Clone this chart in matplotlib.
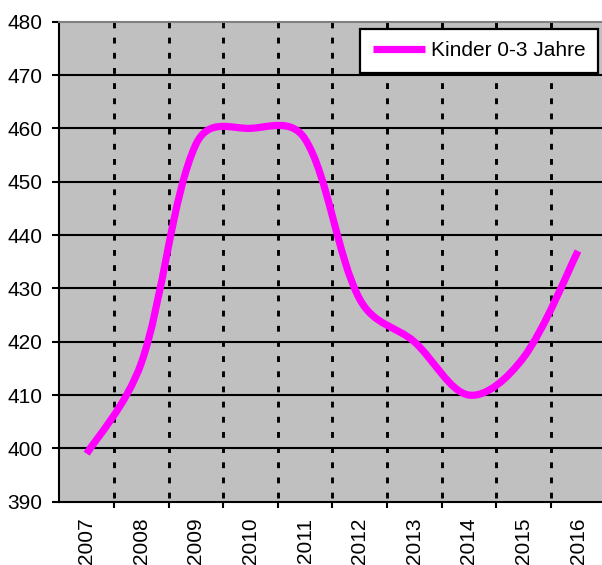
import math
import matplotlib.pyplot as plt
from matplotlib.path import Path
from matplotlib.patches import PathPatch
from matplotlib.lines import Line2D

# Kinder 0-3 Jahre per year
years = ['2007', '2008', '2009', '2010', '2011', '2012', '2013', '2014', '2015', '2016']
kinder = [399, 416, 457, 460, 458, 428, 420, 410, 417, 437]
y_ticks = [390, 400, 410, 420, 430, 440, 450, 460, 470, 480]
series_name = 'Kinder 0-3 Jahre'

plt.rcParams['font.family'] = 'Liberation Sans'
plt.rcParams['font.size'] = 15

fig = plt.figure(figsize=(6.02, 5.65), dpi=100)
ax_w, ax_h = 545.9, 480.0
ax = fig.add_axes([59.4 / 602, 63.3 / 565, ax_w / 602, ax_h / 565])
ax.set_facecolor('#c0c0c0')

n = len(years)
xs = list(range(n))
ax.set_xlim(-0.5, n - 0.5)
ax.set_ylim(y_ticks[0], y_ticks[-1])

# solid horizontal gridlines, dotted vertical lines between categories
ax.hlines(y_ticks[1:-1], -0.5, n - 0.5, colors='black', lw=1.5, zorder=1)
bounds = [i + 0.5 for i in range(n - 1)]
ax.vlines(bounds, y_ticks[-1], y_ticks[0], colors='black', lw=2.1,
          linestyles=(0, (2.0, 3.2)), zorder=1)

# smoothed line: bezier segments; handle length is half the plain 1/6 rule,
# half scaled by the on-screen length of the neighbouring segments
sx = ax_w / n
sy = ax_h / (y_ticks[-1] - y_ticks[0])


def dist(a, b):
    return math.hypot((b[0] - a[0]) * sx, (b[1] - a[1]) * sy)


def handle(d_near, d_far):
    ratio = d_near / (d_near + d_far) if d_far > 0 else 0.5
    return 0.5 * (1 / 6) + 0.5 * ratio / 3


pts = list(zip(xs, kinder))
verts = [pts[0]]
codes = [Path.MOVETO]
for i in range(n - 1):
    p0 = pts[i - 1] if i > 0 else pts[i]
    p1 = pts[i]
    p2 = pts[i + 1]
    p3 = pts[i + 2] if i + 2 < n else pts[i + 1]
    d01, d12, d23 = dist(p0, p1), dist(p1, p2), dist(p2, p3)
    f1 = handle(d12, d01)
    f2 = handle(d12, d23)
    c1 = (p1[0] + (p2[0] - p0[0]) * f1, p1[1] + (p2[1] - p0[1]) * f1)
    c2 = (p2[0] - (p3[0] - p1[0]) * f2, p2[1] - (p3[1] - p1[1]) * f2)
    verts += [c1, c2, p2]
    codes += [Path.CURVE4] * 3
curve = PathPatch(Path(verts, codes), fill=False, edgecolor='#ff00ff', lw=5.2,
                  capstyle='butt', joinstyle='round', zorder=3)
ax.add_patch(curve)

# axes styling
ax.set_yticks(y_ticks)
ax.tick_params(axis='y', direction='out', length=5, width=1.5, pad=7)
ax.set_xticks(bounds)
ax.set_xticklabels([])
ax.set_xticks(xs, minor=True)
ax.set_xticklabels(years, minor=True, rotation=90)
ax.tick_params(axis='x', which='major', direction='out', length=4.3, width=1.5)
ax.tick_params(axis='x', which='minor', length=0, pad=11.5)

ax.spines['left'].set_linewidth(1.5)
ax.spines['bottom'].set_linewidth(1.5)
ax.spines['top'].set_color('#808080')
ax.spines['top'].set_linewidth(1.5)
ax.spines['right'].set_visible(False)

line_handle = Line2D([], [], color='#ff00ff', lw=5.2, solid_capstyle='butt')
leg = ax.legend([line_handle], [series_name], loc='upper right',
                bbox_to_anchor=(0.9866, 0.9848), borderaxespad=0,
                fancybox=False, framealpha=1, edgecolor='black',
                handlelength=2.5, handletextpad=0.3, borderpad=0.6,
                fontsize=15)
leg.get_frame().set_linewidth(1.6)

fig.savefig('out.png', dpi=100)
